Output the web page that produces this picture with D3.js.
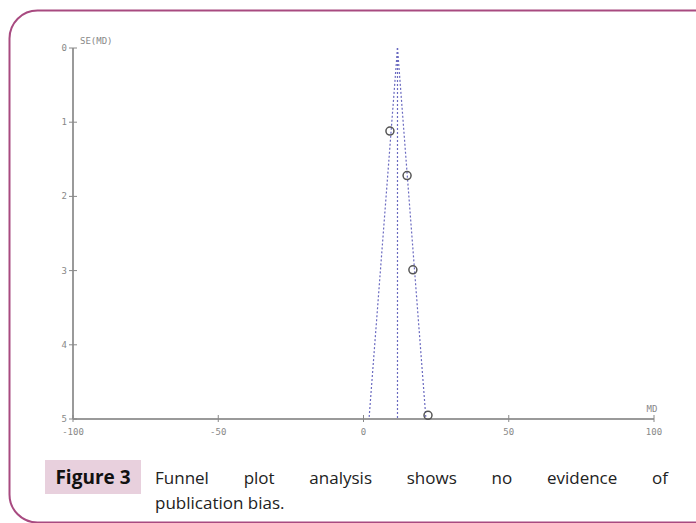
<!DOCTYPE html>
<html>
<head>
<meta charset="utf-8">
<script src="https://cdn.jsdelivr.net/npm/d3@7"></script>
<style>
  body { margin: 0; background: #fff; }
  svg { display: block; }
  .tick-label { font-family: "DejaVu Sans Mono", monospace; font-size: 9px; fill: #888; }
</style>
</head>
<body>
<svg width="696" height="523"></svg>
<script>
// study estimates
var studyMD = [9.1, 15.0, 17.0, 22.2];
var studySE = [1.12, 1.72, 2.99, 4.95];
var pooledMD = 11.7;
var seMax = 5;
var xTicks = [-100, -50, 0, 50, 100];
var yTicks = [0, 1, 2, 3, 4, 5];
var captionLines = ["Funnel plot analysis shows no evidence of", "publication bias."];

var svg = d3.select("svg");

// frame
svg.append("rect")
    .attr("x", 9.5).attr("y", 10.5)
    .attr("width", 720).attr("height", 512)
    .attr("rx", 28).attr("ry", 28)
    .attr("fill", "none")
    .attr("stroke", "#a84a80")
    .attr("stroke-width", 2);

var x = d3.scaleLinear().domain([-100, 100]).range([73, 654]);
var y = d3.scaleLinear().domain([0, seMax]).range([48, 419]);

var g = svg.append("g");

// axes
g.append("line")
    .attr("x1", x(-100)).attr("x2", x(100))
    .attr("y1", y(seMax)).attr("y2", y(seMax))
    .attr("stroke", "#9a9a9a").attr("stroke-width", 2);
g.append("line")
    .attr("x1", x(-100)).attr("x2", x(-100))
    .attr("y1", y(0)).attr("y2", y(seMax))
    .attr("stroke", "#9a9a9a").attr("stroke-width", 2);

g.selectAll(".xt").data(xTicks).enter().append("line")
    .attr("x1", d => x(d)).attr("x2", d => x(d))
    .attr("y1", y(seMax) - 4).attr("y2", y(seMax) + 3)
    .attr("stroke", "#888").attr("stroke-width", 1);
g.selectAll(".xl").data(xTicks).enter().append("text")
    .attr("class", "tick-label")
    .attr("x", d => x(d)).attr("y", y(seMax) + 16)
    .attr("text-anchor", "middle")
    .text(d => d);

g.selectAll(".yt").data(yTicks).enter().append("line")
    .attr("x1", x(-100) - 4).attr("x2", x(-100) + 4)
    .attr("y1", d => y(d)).attr("y2", d => y(d))
    .attr("stroke", "#888").attr("stroke-width", 1);
g.selectAll(".yl").data(yTicks).enter().append("text")
    .attr("class", "tick-label")
    .attr("x", x(-100) - 6).attr("y", d => y(d) + 3)
    .attr("text-anchor", "end")
    .text(d => d);

g.append("text").attr("class", "tick-label")
    .attr("x", x(-100) + 7).attr("y", y(0) - 4)
    .text("SE(MD)");
g.append("text").attr("class", "tick-label")
    .attr("x", x(100) - 2).attr("y", y(seMax) - 7)
    .attr("text-anchor", "middle")
    .text("MD");

// funnel
var funnel = [
  [[pooledMD, 0], [pooledMD - 1.96 * seMax, seMax]],
  [[pooledMD, 0], [pooledMD, seMax]],
  [[pooledMD, 0], [pooledMD + 1.96 * seMax, seMax]]
];
var line = d3.line().x(d => x(d[0])).y(d => y(d[1]));
g.selectAll(".funnel").data(funnel).enter().append("path")
    .attr("d", line)
    .attr("fill", "none")
    .attr("stroke", "#6a6ac0")
    .attr("stroke-width", 1.2)
    .attr("stroke-dasharray", "2,2");

// studies
g.selectAll(".pt").data(studyMD).enter().append("circle")
    .attr("cx", d => x(d))
    .attr("cy", (d, i) => y(studySE[i]))
    .attr("r", 4)
    .attr("fill", "none")
    .attr("stroke", "#555")
    .attr("stroke-width", 1.5);

// caption
svg.append("rect")
    .attr("x", 45).attr("y", 460).attr("width", 96).attr("height", 34)
    .attr("fill", "#e8d0dd");
svg.append("text")
    .attr("x", 93).attr("y", 484)
    .attr("text-anchor", "middle")
    .attr("font-family", "'Open Sans', sans-serif")
    .attr("font-weight", "bold")
    .attr("font-size", 19)
    .attr("fill", "#111")
    .text("Figure 3");

var cap = svg.append("g")
    .attr("font-family", "'Open Sans', sans-serif")
    .attr("font-size", 17)
    .attr("fill", "#222");

// justified first line: spread the words between left and right edges
var left = 155, right = 668;
var words = captionLines[0].split(" ");
var wt = cap.selectAll(".w").data(words).enter().append("text")
    .attr("y", 484)
    .text(d => d);
var widths = wt.nodes().map(n => n.getComputedTextLength());
var gap = (right - left - d3.sum(widths)) / (words.length - 1);
var pos = left;
wt.attr("x", (d, i) => { var p = pos; pos += widths[i] + gap; return p; });

cap.append("text")
    .attr("x", left).attr("y", 509)
    .text(captionLines[1]);
</script>
</body>
</html>
